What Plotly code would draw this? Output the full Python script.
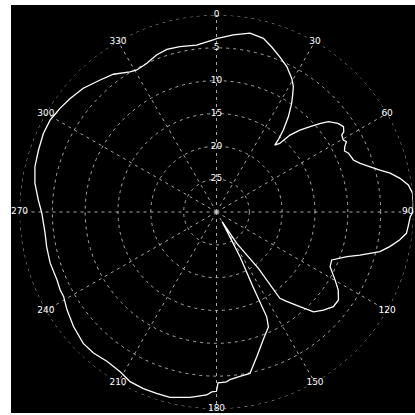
import plotly.graph_objects as go

# Measured radiation pattern: azimuth angle (deg, clockwise from north) and relative gain (dB)
azimuth_deg = [
    0, 5.4, 10.6, 15.1, 18.5, 22.2, 25.8, 29.4, 31.5, 33.0, 34.7, 37.0, 39.2, 40.6, 41.1,
    42.7, 43.7, 45.5, 47.6, 49.4, 51.1, 53.9, 56.1, 57.8, 58.4, 60.4, 61.5, 63.1, 64.5, 66.0,
    69.2, 71.3, 73.6, 75.6, 77.4, 79.6, 82.0, 84.6, 87.6, 90.0, 91.5, 93.9, 96.4, 98.7,
    101.3, 103.6, 106.7, 108.9, 112.6, 115.7, 119.8, 122.6, 125.8, 129.0, 132.5, 135.8,
    138.6, 141.9, 143.7, 143.4, 147.2, 150.0, 152.3, 154.0, 154.4, 155.7, 159.9, 164.5,
    168.3, 171.9, 175.4, 176.6, 179.5, 180.0, 181.5, 183.1, 188.1, 194.1, 198.3, 202.5,
    207.0, 211.1, 216.3, 221.1, 225.4, 231.3, 236.8, 241.1, 243.5, 246.9, 252.9, 258.5,
    262.9, 269.6, 273.9, 279.0, 284.0, 289.2, 294.4, 298.9, 301.7, 303.5, 307.8, 312.9,
    318.6, 323.2, 328.3, 330.7, 334.9, 339.1, 343.0, 347.5, 353.2, 358.9, 360.0,
]
gain_db = [
    -3.6, -2.9, -2.3, -2.6, -3.5, -4.5, -5.4, -6.65, -7.6, -8.7, -9.9, -11.8, -13.9, -15.6, -16.5,
    -15.8, -13.8, -12.2, -10.7, -9.3, -8.1, -7.1, -6.7, -7.1, -7.6, -7.8, -7.5, -8.1, -8.4, -8.0,
    -7.7, -6.9, -5.6, -4.3, -2.9, -1.6, -0.5, 0.0, 0.0, -0.1, -0.5, -0.7, -0.9, -1.8,
    -3.1, -4.4, -7.2, -9.0, -11.0, -10.8, -9.2, -8.0, -7.1, -7.1, -7.9, -8.8,
    -10.8, -12.7, -13.7, -19.3, -24.3, -28.3, -22.3, -17.3, -12.3, -10.8, -9.3, -7.1,
    -4.9, -4.7, -4.4, -4.1, -4.0, -2.7, -2.6, -2.1, -1.5, -0.9, -0.9, -0.9,
    -1.0, -1.6, -1.8, -1.5, -1.5, -2.1, -2.8, -3.4, -3.4, -3.6, -3.5, -3.6,
    -3.7, -3.4, -2.8, -2.0, -1.5, -1.3, -1.05, -1.05, -1.3, -1.4, -1.8, -2.3,
    -3.2, -3.8, -4.9, -5.2, -5.0, -4.4, -4.1, -4.2, -4.4, -3.8, -3.6,
]

# Axis ticks
angle_ticks = [0, 30, 60, 90, 120, 150, 180, 210, 240, 270, 300, 330]
angle_labels = ["0", "30", "60", "90", "120", "150", "180", "210", "240", "270", "300", "330"]
ring_ticks = [0, -5, -10, -15, -20, -25]
ring_labels = ["0", "5", "10", "15", "20", "25"]
r_min = -30

W = H = 415
cx, cy, rad = 216.5, 212.0, 197.0

grid_col = "rgba(210,210,210,0.8)"
grid_dash = "3px,4px"
label_font = dict(family="DejaVu Sans", size=9, color="white")

fig = go.Figure()

# Outer dashed ring at 0 dB
ring_theta = [i * 2 for i in range(181)]
fig.add_trace(go.Scatterpolar(
    theta=ring_theta, r=[ring_ticks[0]] * len(ring_theta), mode="lines",
    line=dict(color=grid_col, width=1, dash=grid_dash), hoverinfo="skip", showlegend=False,
))

# Pattern trace
fig.add_trace(go.Scatterpolar(
    theta=azimuth_deg, r=gain_db, mode="lines",
    line=dict(color="white", width=1.3), showlegend=False, cliponaxis=False,
))

# Angle labels sitting on the outer ring (the one at the right edge is pulled inward)
positions = ["middle left" if a == 90 else "middle center" for a in angle_ticks]
fig.add_trace(go.Scatterpolar(
    theta=angle_ticks, r=[ring_ticks[0]] * len(angle_ticks), mode="text",
    text=angle_labels, textposition=positions, textfont=label_font,
    showlegend=False, hoverinfo="skip", cliponaxis=False,
))

# Ring labels along the 0 degree spoke
fig.add_trace(go.Scatterpolar(
    theta=[0] * (len(ring_ticks) - 1), r=ring_ticks[1:], mode="text",
    text=ring_labels[1:], textposition="middle center", textfont=label_font,
    showlegend=False, hoverinfo="skip", cliponaxis=False,
))

fig.update_layout(
    width=W, height=H,
    margin=dict(l=0, r=0, t=0, b=0),
    paper_bgcolor="white",
    plot_bgcolor="black",
    showlegend=False,
    shapes=[dict(type="rect", xref="paper", yref="paper",
                 x0=11 / W, x1=1, y0=2 / H, y1=(H - 5) / H,
                 fillcolor="black", line=dict(width=0), layer="below")],
    polar=dict(
        domain=dict(x=[(cx - rad) / W, (cx + rad) / W],
                    y=[(H - cy - rad) / H, (H - cy + rad) / H]),
        bgcolor="black",
        angularaxis=dict(
            rotation=90, direction="clockwise",
            tickvals=angle_ticks, showticklabels=False, ticks="",
            showline=False, showgrid=True,
            gridcolor=grid_col, griddash=grid_dash, gridwidth=1,
        ),
        radialaxis=dict(
            range=[r_min, 0], tickvals=ring_ticks[1:],
            showticklabels=False, ticks="", showline=False,
            showgrid=True, gridcolor=grid_col, griddash=grid_dash, gridwidth=1,
        ),
    ),
)

fig.write_html("out.html")
